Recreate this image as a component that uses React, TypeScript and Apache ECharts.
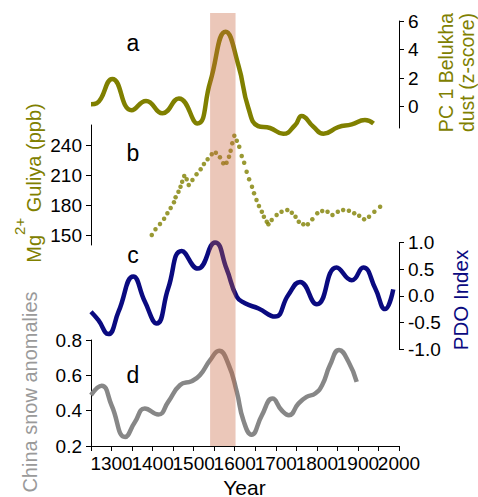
import React, { useEffect, useRef } from 'react';
import * as echarts from 'echarts';

const FONT = '"Liberation Sans", Arial, Helvetica, sans-serif';
const OLIVE = '#808000';
const NAVY = '#0a0a80';
const GRAY = '#878787';

// Panel a: PC 1 Belukha dust (z-score)
const dustYears = [1250, 1264, 1302, 1349, 1384, 1424, 1464, 1509, 1540, 1578, 1609, 1633, 1657, 1686, 1718, 1747, 1763, 1791, 1816, 1852, 1885, 1917, 1938];
const dustValues = [0.17, 0.24, 1.94, -0.26, 0.4, -0.47, 0.57, -1.18, 1.7, 5.25, 2.89, -0.08, -1.37, -1.5, -1.91, -1.3, -0.66, -1.4, -1.91, -1.44, -1.25, -0.94, -1.18];

// Panel b: Mg2+ Guliya (ppb)
const mgYears = [1398, 1407, 1418, 1428, 1436, 1444, 1452, 1456, 1463, 1468, 1472, 1477, 1483, 1488, 1497, 1507, 1517, 1525, 1534, 1544, 1554, 1564, 1572, 1580, 1586, 1590, 1594, 1599, 1605, 1611, 1617, 1623, 1629, 1635, 1642, 1647, 1653, 1659, 1666, 1671, 1678, 1682, 1690, 1702, 1714, 1728, 1739, 1748, 1756, 1767, 1778, 1789, 1801, 1813, 1826, 1838, 1851, 1864, 1878, 1891, 1903, 1915, 1927, 1940, 1954];
const mgValues = [150, 155.7, 161, 166.3, 171.7, 177, 182.7, 187.7, 193.3, 198.3, 203.3, 209, 205.7, 200, 205, 210.7, 215.7, 221, 225.7, 230.7, 232.3, 227.7, 221.7, 222.3, 228.3, 234.3, 241.7, 249.3, 244.3, 238.3, 229, 222.3, 213.3, 205.7, 198.3, 191.7, 185, 179, 173.3, 168.3, 163.3, 160.7, 165, 170, 173.3, 175, 172.3, 168.3, 163.3, 160.7, 160.7, 165.7, 171.7, 174, 173.3, 170, 173.3, 175, 174.3, 171.7, 169.3, 165.7, 168.3, 173.3, 178.3];

// Panel c: PDO Index
const pdoYears = [1250, 1268, 1292, 1317, 1353, 1381, 1410, 1438, 1471, 1510, 1552, 1580, 1605, 1625, 1658, 1698, 1730, 1759, 1800, 1848, 1885, 1913, 1942, 1966, 1986];
const pdoValues = [-0.3, -0.46, -0.72, -0.3, 0.36, -0.11, -0.52, 0.14, 0.84, 0.51, 1.0, 0.51, -0.02, -0.14, -0.24, -0.39, 0.01, 0.26, -0.16, 0.53, 0.29, 0.53, 0.14, -0.25, 0.12];

// Panel d: China snow anomalies
const snowYears = [1250, 1276, 1300, 1333, 1357, 1381, 1414, 1438, 1467, 1495, 1515, 1540, 1562, 1584, 1605, 1621, 1641, 1666, 1692, 1714, 1732, 1755, 1775, 1796, 1813, 1832, 1854, 1877, 1897];
const snowValues = [0.488, 0.541, 0.431, 0.251, 0.336, 0.412, 0.378, 0.45, 0.545, 0.567, 0.6, 0.686, 0.739, 0.667, 0.507, 0.346, 0.264, 0.374, 0.469, 0.403, 0.374, 0.44, 0.478, 0.497, 0.545, 0.658, 0.743, 0.677, 0.563];

// Shaded period
const bandPeriod = [1540, 1602];

// Tick labels
const xTickLabels = [1300, 1400, 1500, 1600, 1700, 1800, 1900, 2000];
const dustTicks = [0, 2, 4, 6];
const mgTicks = [150, 180, 210, 240];

const pairs = (xs: number[], ys: number[]) => xs.map((x, i) => [x, ys[i]]);

export default function App() {
  const ref = useRef<HTMLDivElement>(null);
  useEffect(() => {
    const chart = echarts.init(ref.current!, null, { renderer: 'svg' });
    const L = 91;
    const W = 308;
    const hiddenX = (gi: number) => ({
      type: 'value', gridIndex: gi, min: 1250, max: 2000, show: false,
    });
    const axisBase = {
      axisLine: { show: true, onZero: false, lineStyle: { color: '#000', width: 1 } },
      axisTick: { show: true, length: 5, lineStyle: { color: '#000' } },
      splitLine: { show: false },
    };
    const lbl = { color: '#000', fontSize: 19, fontFamily: FONT, margin: 9 };
    const option: any = {
      animation: false,
      textStyle: { fontFamily: FONT },
      grid: [
        { left: L, top: 21, width: W, height: 107, outerBoundsMode: 'none' },
        { left: L, top: 125, width: W, height: 120, outerBoundsMode: 'none' },
        { left: L, top: 242.5, width: W, height: 106.5, outerBoundsMode: 'none' },
        { left: L, top: 340, width: W, height: 106, outerBoundsMode: 'none' },
        { left: L, top: 13, width: W, height: 433, outerBoundsMode: 'none' },
      ],
      xAxis: [
        hiddenX(0),
        hiddenX(1),
        hiddenX(2),
        {
          type: 'value', gridIndex: 3, min: 1250, max: 2000, interval: 50,
          ...axisBase,
          axisTick: { show: true, length: 5, interval: 0, lineStyle: { color: '#000' } },
          axisLabel: {
            ...lbl, fontSize: 19, margin: 8, interval: 0, hideOverlap: false,
            formatter: (v: number) => (xTickLabels.indexOf(v) >= 0 ? String(v) : ''),
          },
        },
        hiddenX(4),
      ],
      yAxis: [
        {
          type: 'value', gridIndex: 0, position: 'right', min: -1.5, max: 6,
          ...axisBase,
          axisTick: { show: true, length: 5, customValues: dustTicks, lineStyle: { color: '#000' } },
          axisLabel: { ...lbl, customValues: dustTicks },
        },
        {
          type: 'value', gridIndex: 1, position: 'left', min: 140, max: 260,
          ...axisBase,
          axisTick: { show: true, length: 5, customValues: mgTicks, lineStyle: { color: '#000' } },
          axisLabel: { ...lbl, customValues: mgTicks },
        },
        {
          type: 'value', gridIndex: 2, position: 'right', min: -1, max: 1, interval: 0.5,
          ...axisBase,
          axisLabel: { ...lbl, formatter: (v: number) => (Math.abs(v) < 1e-9 ? '0.0' : v.toFixed(1)) },
        },
        {
          type: 'value', gridIndex: 3, position: 'left', min: 0.2, max: 0.8, interval: 0.2,
          ...axisBase,
          axisLabel: { ...lbl, formatter: (v: number) => v.toFixed(1) },
        },
        { type: 'value', gridIndex: 4, min: 0, max: 1, show: false },
      ],
      series: [
        {
          type: 'line', xAxisIndex: 0, yAxisIndex: 0, data: pairs(dustYears, dustValues),
          smooth: 0.5, showSymbol: false, clip: false, z: 2,
          lineStyle: { color: OLIVE, width: 4.5 },
        },
        {
          type: 'scatter', xAxisIndex: 1, yAxisIndex: 1, data: pairs(mgYears, mgValues),
          symbolSize: 4.5, clip: false, z: 2,
          itemStyle: { color: OLIVE },
        },
        {
          type: 'line', xAxisIndex: 2, yAxisIndex: 2, data: pairs(pdoYears, pdoValues),
          smooth: 0.5, showSymbol: false, clip: false, z: 2,
          lineStyle: { color: NAVY, width: 4.5 },
        },
        {
          type: 'line', xAxisIndex: 3, yAxisIndex: 3, data: pairs(snowYears, snowValues),
          smooth: 0.5, showSymbol: false, clip: false, z: 2,
          lineStyle: { color: GRAY, width: 4.5 },
        },
        {
          type: 'custom', xAxisIndex: 4, yAxisIndex: 4, z: 10, silent: true,
          data: [bandPeriod],
          renderItem: (params: any, api: any) => {
            const p0 = api.coord([api.value(0), 1]);
            const p1 = api.coord([api.value(1), 0]);
            return {
              type: 'rect',
              shape: { x: p0[0], y: p0[1], width: p1[0] - p0[0], height: p1[1] - p0[1] },
              style: { fill: 'rgba(200,100,60,0.36)' },
            };
          },
        },
      ],
      graphic: [
        { type: 'text', x: 133, y: 43, style: { text: 'a', fontSize: 23, fontFamily: FONT, fill: '#000', align: 'center', verticalAlign: 'middle' } },
        { type: 'text', x: 133, y: 153, style: { text: 'b', fontSize: 23, fontFamily: FONT, fill: '#000', align: 'center', verticalAlign: 'middle' } },
        { type: 'text', x: 133, y: 255, style: { text: 'c', fontSize: 23, fontFamily: FONT, fill: '#000', align: 'center', verticalAlign: 'middle' } },
        { type: 'text', x: 133, y: 375, style: { text: 'd', fontSize: 23, fontFamily: FONT, fill: '#000', align: 'center', verticalAlign: 'middle' } },
        {
          type: 'text', x: 456, y: 72.5, rotation: Math.PI / 2,
          style: { text: 'PC 1 Belukha\ndust (z-score)', fontSize: 19.5, lineHeight: 21, fontFamily: FONT, fill: OLIVE, align: 'center', verticalAlign: 'middle' },
        },
        {
          type: 'text', x: 28, y: 183, rotation: Math.PI / 2,
          style: {
            text: '{n|Mg}{s|2+}{n| Guliya (ppb)}',
            fontFamily: FONT, fill: OLIVE, align: 'center', verticalAlign: 'middle',
            rich: {
              n: { fontSize: 20, fontFamily: FONT, fill: OLIVE, color: OLIVE, lineHeight: 32, verticalAlign: 'bottom' },
              s: { fontSize: 15, fontFamily: FONT, fill: OLIVE, color: OLIVE, lineHeight: 12, verticalAlign: 'top' },
            },
          },
        },
        {
          type: 'text', x: 460, y: 300, rotation: Math.PI / 2,
          style: { text: 'PDO Index', fontSize: 20.5, fontFamily: FONT, fill: NAVY, align: 'center', verticalAlign: 'middle' },
        },
        {
          type: 'text', x: 30, y: 392, rotation: Math.PI / 2,
          style: { text: 'China snow anomalies', fontSize: 20, fontFamily: FONT, fill: '#9a9a9a', align: 'center', verticalAlign: 'middle' },
        },
        {
          type: 'text', x: 244.5, y: 487,
          style: { text: 'Year', fontSize: 21, fontFamily: FONT, fill: '#000', align: 'center', verticalAlign: 'middle' },
        },
      ],
    };
    chart.setOption(option);
    return () => chart.dispose();
  }, []);
  return <div ref={ref} style={{ position: 'absolute', left: 0, top: 0, width: 478, height: 497 }} />;
}
